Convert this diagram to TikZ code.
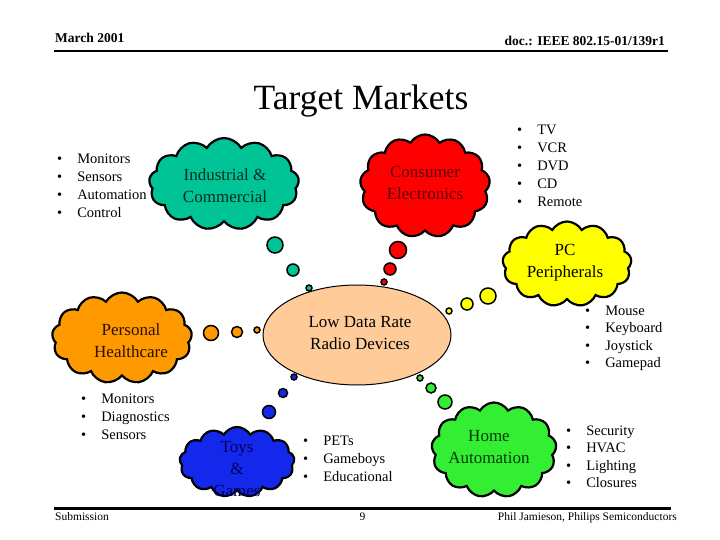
\documentclass[tikz,border=0pt]{standalone}
\usepackage{fontspec}
\setmainfont{Liberation Serif}
\usetikzlibrary{shapes.symbols, shapes.geometric}

\definecolor{indteal}{RGB}{0,196,150}
\definecolor{conred}{RGB}{255,0,0}
\definecolor{pcyellow}{RGB}{255,255,0}
\definecolor{healthorange}{RGB}{255,153,0}
\definecolor{toyblue}{RGB}{20,40,235}
\definecolor{homegreen}{RGB}{51,238,51}
\definecolor{radiopeach}{RGB}{255,204,153}
\definecolor{indink}{RGB}{0,45,30}
\definecolor{conink}{RGB}{90,0,0}
\definecolor{healthink}{RGB}{45,15,0}
\definecolor{toyink}{RGB}{0,0,90}
\definecolor{homeink}{RGB}{0,60,0}

\newcommand{\itemlist}[1]{\begin{tabular}[t]{@{}l@{\hspace{15pt}}l@{}}#1\end{tabular}}

\begin{document}
\begin{tikzpicture}[
        x=1pt, y=-1pt,
        market/.style={cloud, cloud puffs=13, cloud puff arc=120, cloud ignores aspect, draw, line width=2.2pt, inner sep=0pt},
        cloudtext/.style={align=center, inner sep=0pt, font=\fontsize{17}{22}\selectfont},
        puff/.style={circle, draw, line width=1.5pt, inner sep=0pt},
        bullets/.style={anchor=base west, inner sep=0pt, font=\fontsize{14.5}{18}\selectfont},
        small/.style={inner sep=0pt, font=\fontsize{11.5}{14}\selectfont},
        rule/.style={line width=2.5pt}
    ]
        \useasboundingbox (0,0) rectangle (720,540);

        % Header and footer
        \node [anchor=base west, inner sep=0pt, font=\bfseries\fontsize{13.5}{16}\selectfont] (date) at (55,43) {March 2001};
        \node [anchor=base east, inner sep=0pt, font=\bfseries\fontsize{13.5}{16}\selectfont] (docid) at (665,46) {doc.: IEEE 802.15-01/139r1};
        \draw [rule] (54,51) -- (668,51);
        \draw [rule] (54,508.5) -- (671,508.5);
        \node [small, anchor=base west] (submit) at (55,520) {Submission};
        \node [small, anchor=base] (page) at (362.5,520) {9};
        \node [small, anchor=base east] (author) at (677,520) {Phil Jamieson, Philips Semiconductors};

        % Title
        \node [anchor=base, inner sep=0pt, font=\fontsize{35.5}{40}\selectfont] (title) at (361,110) {Target Markets};

        % Centre
        \node [ellipse, draw, line width=1pt, fill=radiopeach, minimum width=188pt, minimum height=100pt] (radio) at (357,335) {};
        \node [cloudtext] (radiotxt) at (360,333) {Low Data Rate\\Radio Devices};

        % Clouds
        \node [market, fill=indteal, minimum width=150pt, minimum height=92pt] (ind) at (224,184) {};
        \node [market, fill=conred, minimum width=130pt, minimum height=103pt] (con) at (425,186) {};
        \node [market, fill=pcyellow, minimum width=129pt, minimum height=85pt] (pc) at (567,264) {};
        \node [market, fill=healthorange, minimum width=140pt, minimum height=91pt] (health) at (122,338) {};
        \node [market, fill=toyblue, minimum width=115pt, minimum height=70pt] (toys) at (237,462) {};
        \node [market, fill=homegreen, minimum width=125pt, minimum height=95pt] (home) at (494,450) {};

        \node [cloudtext, text=indink] (indtxt) at (225,185.5) {Industrial \&\\Commercial};
        \node [cloudtext, text=conink] (contxt) at (425,183) {Consumer\\Electronics};
        \node [cloudtext] (pctxt) at (565,263) {PC\\Peripherals};
        \node [cloudtext, text=healthink] (healthtxt) at (131,341) {Personal\\Healthcare};
        \node [cloudtext, text=toyink] (toystxt) at (237,469) {Toys\\\&\\Games};
        \node [cloudtext, text=homeink] (hometxt) at (489,447.5) {Home\\Automation};

        % Thought puffs towards the centre
        \node [puff, fill=indteal, minimum size=16pt] (ind1) at (275,245) {};
        \node [puff, fill=indteal, minimum size=12pt] (ind2) at (293,270) {};
        \node [puff, fill=indteal, minimum size=6pt] (ind3) at (309,288) {};
        \node [puff, fill=conred, minimum size=17pt] (con1) at (398,250) {};
        \node [puff, fill=conred, minimum size=12pt] (con2) at (390,269) {};
        \node [puff, fill=conred, minimum size=6pt] (con3) at (384,282) {};
        \node [puff, fill=pcyellow, minimum size=16pt] (pc1) at (488,296) {};
        \node [puff, fill=pcyellow, minimum size=12pt] (pc2) at (467,304) {};
        \node [puff, fill=pcyellow, minimum size=6pt] (pc3) at (449,311) {};
        \node [puff, fill=healthorange, minimum size=15pt] (health1) at (211,333) {};
        \node [puff, fill=healthorange, minimum size=11pt] (health2) at (237,332) {};
        \node [puff, fill=healthorange, minimum size=6pt] (health3) at (257,330) {};
        \node [puff, fill=toyblue, minimum size=13pt] (toys1) at (269,412) {};
        \node [puff, fill=toyblue, minimum size=9pt] (toys2) at (283,393) {};
        \node [puff, fill=toyblue, minimum size=6pt] (toys3) at (294,377) {};
        \node [puff, fill=homegreen, minimum size=14pt] (home1) at (445,402) {};
        \node [puff, fill=homegreen, minimum size=10pt] (home2) at (431,388) {};
        \node [puff, fill=homegreen, minimum size=6pt] (home3) at (420,378) {};

        % Bullet lists
        \node [bullets] (indlist) at (57,163.5) {\itemlist{\textbullet & Monitors\\ \textbullet & Sensors\\ \textbullet & Automation\\ \textbullet & Control}};
        \node [bullets] (conlist) at (517,134.5) {\itemlist{\textbullet & TV\\ \textbullet & VCR\\ \textbullet & DVD\\ \textbullet & CD\\ \textbullet & Remote}};
        \node [bullets, font=\fontsize{14.5}{17.5}\selectfont] (pclist) at (585,315) {\itemlist{\textbullet & Mouse\\ \textbullet & Keyboard\\ \textbullet & Joystick\\ \textbullet & Gamepad}};
        \node [bullets] (healthlist) at (81,403) {\itemlist{\textbullet & Monitors\\ \textbullet & Diagnostics\\ \textbullet & Sensors}};
        \node [bullets] (toyslist) at (303,445.5) {\itemlist{\textbullet & PETs\\ \textbullet & Gameboys\\ \textbullet & Educational}};
        \node [bullets, font=\fontsize{14.5}{17.5}\selectfont] (homelist) at (566,435) {\itemlist{\textbullet & Security\\ \textbullet & HVAC\\ \textbullet & Lighting\\ \textbullet & Closures}};
    \end{tikzpicture}
\end{document}
